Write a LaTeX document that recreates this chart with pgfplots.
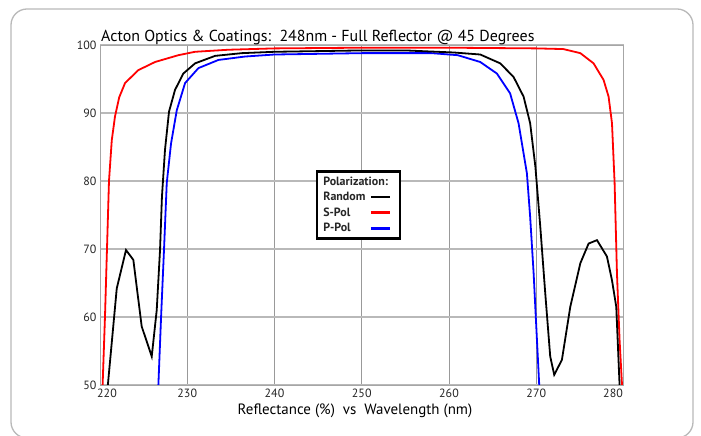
\documentclass[border=0pt]{standalone}
\usepackage{pgfplots}
\pgfplotsset{compat=1.18}
\usepackage{fontspec}
\setmainfont{PT Sans}
\begin{document}
\begin{tikzpicture}[x=1bp,y=1bp]
\useasboundingbox (0,0) rectangle (701,436);
\fill[white] (0,0) rectangle (701,436);
\draw[gray!55, line width=1.3bp, rounded corners=16bp] (11,-2) rectangle (693,427);
\begin{axis}[
  at={(100bp,51bp)}, anchor=south west,
  scale only axis, width=523.5bp, height=340bp,
  xmin=220, xmax=280, ymin=50, ymax=100,
  xtick={220,230,...,280}, ytick={50,60,...,100},
  xticklabels={\hspace*{14bp}220,230,240,250,260,270,280\hspace*{21bp}},
  major tick length=0pt,
  grid=major,
  x grid style={gray!80, line width=0.9bp},
  y grid style={gray!55, line width=1.2bp},
  axis line style={gray!70, line width=0.9bp},
  tick label style={font=\fontsize{12}{14}\selectfont, text=black!85},
  /pgf/number format/assume math mode=true,
  /pgf/number format/1000 sep={},
  legend style={at={(0.4125,0.632)}, anchor=north west, draw=black, line width=2.4bp,
     font=\fontsize{12}{13}\selectfont\bfseries, row sep=3.2bp, column sep=3bp,
     inner xsep=5bp, inner ysep=4bp,
     nodes={inner sep=1.2bp}, text=black!85},
  legend cell align=left,
  legend plot pos=right,
  legend image code/.code={\draw[#1] (0bp,0bp) -- (19bp,0bp); \path (23bp,0bp);},
]
% S-Pol
\addplot[red, line width=1.8bp, forget plot] coordinates {
(220.30,50) (220.57,60) (220.80,70) (221.03,80) (221.35,86) (221.72,89.5)
(222.2,92.3) (222.87,94.4) (224.39,96.3) (226.31,97.5) (228.98,98.5)
(230.89,99.0) (234.7,99.3) (240,99.5) (250,99.6) (260,99.6) (270,99.5)
(273.1,99.4) (275.05,98.8) (276.57,97.3) (277.72,94.85) (278.29,92.4)
(278.68,88.5) (278.98,79.7) (279.25,66.4) (279.55,56.6) (279.83,50)
};
% P-Pol
\addplot[blue, line width=1.8bp, forget plot] coordinates {
(226.69,50) (227.0,60) (227.34,70) (227.65,79.7) (228.14,85.5) (228.8,90.4)
(229.75,94.4) (231.28,96.6) (233.57,97.8) (236.6,98.3) (240,98.6) (250,98.8)
(258,98.8) (261,98.5) (263.58,97.5) (265.49,95.8) (267.0,92.9) (267.97,88.5)
(268.93,81.1) (269.3,74.75) (269.7,66.4) (270.08,56.6) (270.34,50)
};
% Random
\addplot[black, line width=1.8bp, forget plot] coordinates {
(220.9,50) (221.92,64.2) (222.98,69.85) (223.82,68.4) (224.78,58.6)
(225.93,54.2) (226.5,61) (226.88,69.85) (227.1,77.7) (227.45,84.6)
(227.91,90.2) (228.6,93.4) (229.55,95.8) (230.9,97.3) (233.19,98.4)
(236.25,98.8) (240,99.0) (245,99.1) (250,99.2) (255,99.2) (260.5,98.9)
(263.58,98.6) (265.87,97.3) (267.4,95.3) (268.55,92.4) (269.3,88.5)
(269.9,82.1) (270.46,73.3) (271.03,63.5) (271.6,54.2) (272.06,51.5)
(272.94,53.7) (273.9,61.5) (275.05,67.9) (276.0,70.8) (276.96,71.3)
(278.1,68.9) (278.68,65.4) (279.17,61.5) (279.55,50)
};
\addlegendimage{empty legend}\addlegendentry{\makebox[0pt][l]{Polarization:}}
\addlegendimage{black, line width=2.6bp}\addlegendentry{Random}
\addlegendimage{red, line width=2.6bp}\addlegendentry{S-Pol}
\addlegendimage{blue, line width=2.6bp}\addlegendentry{P-Pol}
\end{axis}
\node[anchor=base west, font=\fontsize{16}{18}\selectfont, inner sep=0pt] at (101,394.5)
  {Acton Optics \& Coatings:\ \ 248nm - Full Reflector @ 45 Degrees};
\node[font=\fontsize{15}{17}\selectfont, inner sep=0pt] at (355,25)
  {Reflectance (\%)\ \ vs\ \ Wavelength (nm)};
\end{tikzpicture}
\end{document}
